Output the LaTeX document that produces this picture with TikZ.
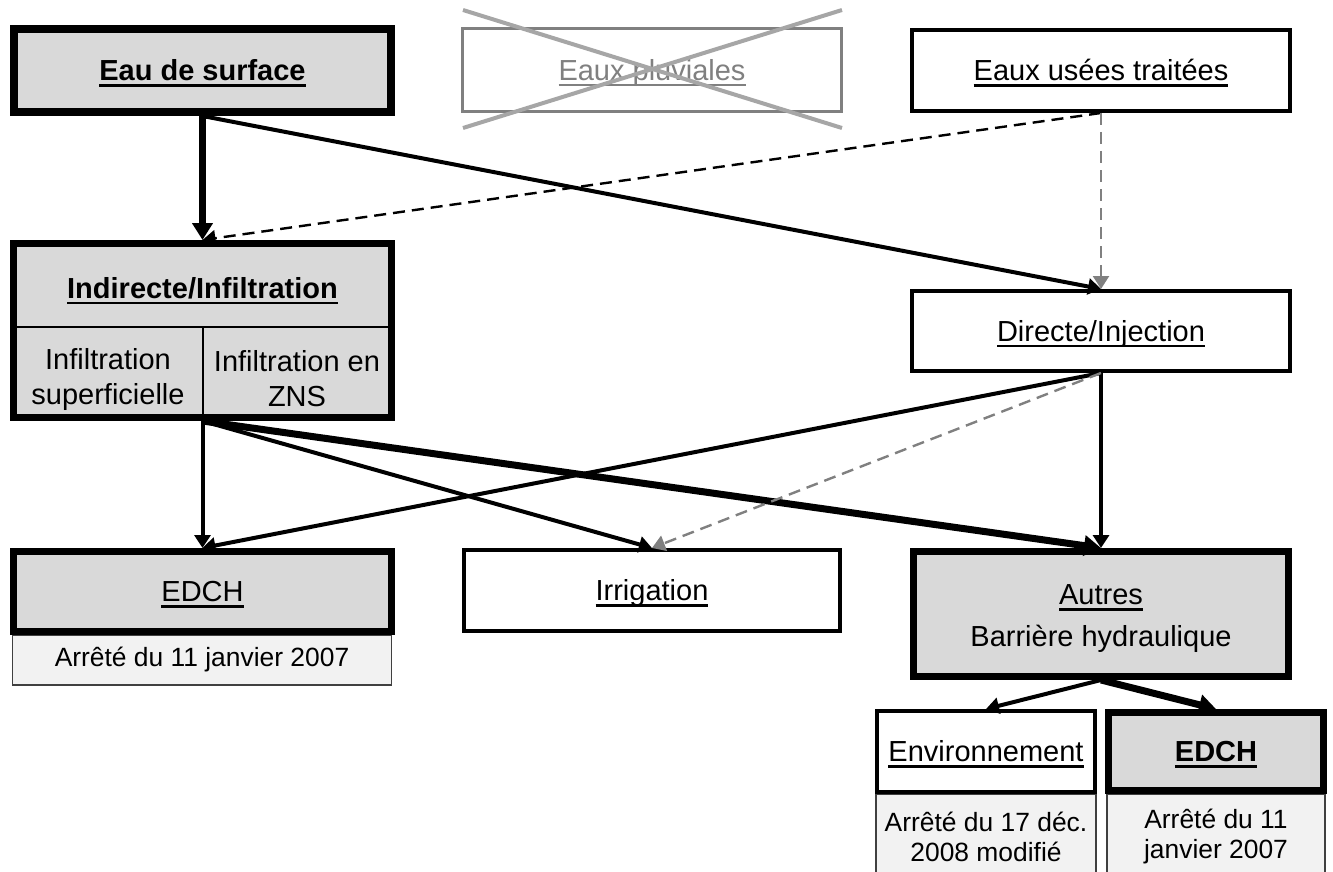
\documentclass[tikz,border=0pt]{standalone}
\usepackage{fontspec}
\setmainfont{Liberation Sans}
\usetikzlibrary{arrows.meta}

\definecolor{grisfond}{HTML}{D9D9D9}
\definecolor{grisnote}{HTML}{F2F2F2}
\definecolor{grismoyen}{HTML}{808080}
\definecolor{grisclair}{HTML}{A6A6A6}

% souligne a hauteur fixe (ne depend pas des jambages)
\newcommand\ulign[1]{\leavevmode\setbox0=\hbox{#1}\rlap{\smash{\rule[-3pt]{\wd0}{1.4pt}}}\box0}

\begin{document}
\begin{tikzpicture}[x=0.5pt, y=-0.5pt, font=\fontsize{14.5}{17.5}\selectfont,
    boite/.style={draw, line width=2pt, fill=white, inner sep=0pt, align=center},
    epaisse/.style={boite, line width=3.5pt, fill=grisfond},
    uneligne/.style={text height=10.4pt, text depth=0pt},
    note/.style={draw=black!75, line width=0.75pt, fill=grisnote, inner sep=0pt, align=center, font=\fontsize{13.2}{15}\selectfont},
    fleche/.style={-{Triangle[length=6.5pt,width=8pt]}, line width=2pt},
    grossefleche/.style={-{Triangle[length=8.5pt,width=10pt]}, line width=3.5pt},
    tirets/.style={-{Triangle[length=6.5pt,width=8pt]}, line width=1.2pt, dash pattern=on 6pt off 3.5pt}]

    \useasboundingbox (0,0) rectangle (1333,872);
    \clip (0,0) rectangle (1333,872);

    % SOURCES
    \node[epaisse, uneligne, line width=4pt, minimum width=188.5pt, minimum height=41.5pt] (eau) at (202.5,70.5) {\ulign{\textbf{Eau de surface}}};
    \node[boite, uneligne, draw=grismoyen, text=grismoyen, line width=1.5pt, minimum width=189.5pt, minimum height=41.5pt] (pluv) at (652,70) {\ulign{Eaux pluviales}};
    \node[boite, uneligne, minimum width=189pt, minimum height=40.5pt] (usees) at (1101,70.5) {\ulign{Eaux usées traitées}};

    % croix sur les eaux pluviales
    \draw[grisclair, line width=2pt] (463,10) -- (842,128);
    \draw[grisclair, line width=2pt] (463,128) -- (842,10);

    % MODES DE RECHARGE
    \node[epaisse, minimum width=189pt, minimum height=87pt] (indirecte) at (202.5,330.5) {};
    \draw[line width=0.75pt] (14,327) -- (391,327);
    \draw[line width=0.75pt] (203,327) -- (203,417);
    \node[uneligne] (titreind) at (202.5,288) {\ulign{\textbf{Indirecte/Infiltration}}};
    \node[align=center] (infsup) at (108,379) {Infiltration\\superficielle};
    \node[align=center] (infzns) at (297,379) {Infiltration en\\ZNS};

    \node[boite, uneligne, minimum width=189pt, minimum height=40pt] (directe) at (1101,331) {\ulign{Directe/Injection}};

    % USAGES
    \node[note, minimum width=189.5pt, minimum height=25pt] (arrete) at (202,660) {Arrêté du 11 janvier 2007};
    \node[epaisse, uneligne, minimum width=189pt, minimum height=40pt] (edch) at (202.5,591.5) {\ulign{EDCH}};
    \node[boite, uneligne, minimum width=188pt, minimum height=40.5pt] (irrig) at (652,590.5) {\ulign{Irrigation}};
    \node[epaisse, minimum width=187.5pt, minimum height=62.5pt] (autres) at (1101,614) {};
    \node[align=center] (texteautres) at (1101,619) {\ulign{Autres}\\[3.5pt]Barrière hydraulique};

    % sous-usages de la barriere hydraulique
    \node[note, minimum width=110pt, minimum height=40pt] (arreteenv) at (986,834) {};
    \node[note, minimum width=109pt, minimum height=40pt] (arreteedch) at (1216,834) {};
    \node[align=center, font=\fontsize{13.2}{15}\selectfont] (texteenv) at (986,837) {Arrêté du 17 déc.\\2008 modifié};
    \node[align=center, font=\fontsize{13.2}{15}\selectfont] (texteedch) at (1216,837) {Arrêté du 11\\janvier 2007};
    \node[boite, uneligne, minimum width=109pt, minimum height=40.5pt] (env) at (986,751.5) {\ulign{Environnement}};
    \node[epaisse, uneligne, minimum width=107.5pt, minimum height=39pt] (edchb) at (1216,751.5) {\ulign{\textbf{EDCH}}};

    % FLECHES
    \draw[grossefleche] (eau.south) -- (indirecte.north);
    \foreach \depart/\arrivee in {eau/directe, indirecte/edch, indirecte/irrig, directe/edch, directe/autres, autres/env}
        \draw[fleche] (\depart.south) -- (\arrivee.north);
    \draw[grossefleche] (indirecte.south) -- (autres.north);
    \draw[grossefleche] (autres.south) -- (edchb.north);

    % liaisons en pointilles
    \draw[tirets] (usees.south) -- (indirecte.north);
    \draw[tirets, grismoyen] (usees.south) -- (directe.north);
    \draw[tirets, grismoyen] (directe.south) -- (irrig.north);

\end{tikzpicture}
\end{document}
